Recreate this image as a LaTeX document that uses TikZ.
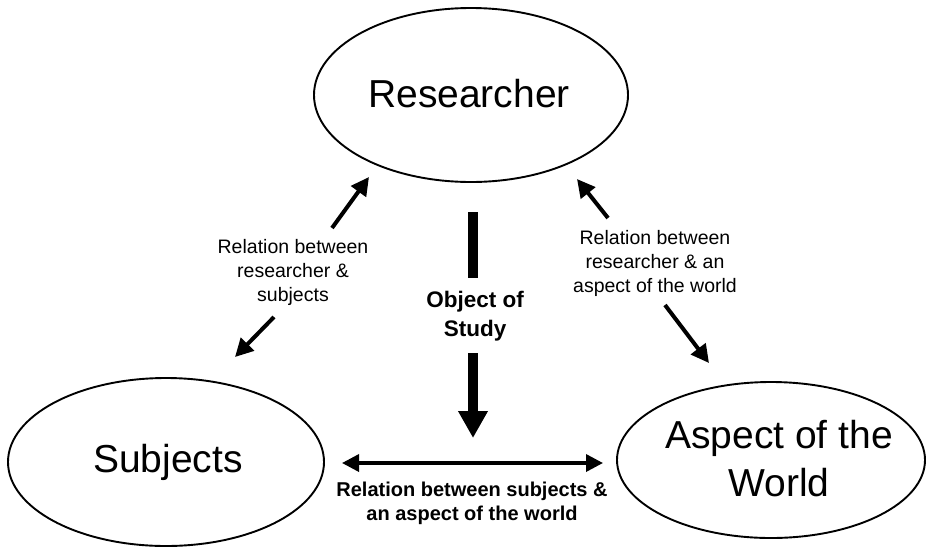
\documentclass[tikz,border=0pt]{standalone}
\usepackage{fontspec}
\setmainfont{Liberation Sans}
\usetikzlibrary{shapes.geometric,arrows.meta}
\begin{document}
\begin{tikzpicture}[x=1pt,y=-1pt,
  bubble/.style={draw=black,line width=1.9pt,ellipse,inner sep=0pt},
  bigtext/.style={font=\fontsize{39}{48}\selectfont,align=center,inner sep=0pt},
  smalltext/.style={font=\fontsize{19.5}{24}\selectfont,align=center,inner sep=0pt},
  boldtext/.style={font=\fontsize{20}{24}\selectfont\bfseries,align=center,inner sep=0pt},
  rel/.style={line width=4pt,-{Triangle[length=18pt,width=18pt]}},
  both/.style={line width=3.5pt,{Triangle[length=17pt,width=17pt]}-{Triangle[length=17pt,width=17pt]}},
  bar/.style={line width=10pt,line cap=butt},
  fat/.style={line width=10pt,-{Triangle[length=27pt,width=28pt]}}]
\useasboundingbox (0,0) rectangle (926,547);
% ellipses
\node[bubble,minimum width=314pt,minimum height=174pt] (res) at (471,95) {};
\node[bubble,minimum width=316pt,minimum height=168pt] (sub) at (166,462) {};
\node[bubble,minimum width=308pt,minimum height=156pt] (asp) at (771,460) {};
\node[bigtext] (rest) at (469,94) {Researcher};
\node[bigtext] (subt) at (168,462) {Subjects};
\node[bigtext] (aspt) at (779,459) {Aspect of the\\World};
% labels
\node[smalltext] (lrel) at (293,272) {Relation between\\researcher \&\\subjects};
\node[smalltext] (rrel) at (655,263) {Relation between\\researcher \& an\\aspect of the world};
\node[boldtext,font=\fontsize{22.5}{29}\selectfont\bfseries] (obj) at (475,316) {Object of\\Study};
\node[boldtext] (brel) at (472,503) {Relation between subjects \&\\an aspect of the world};
% arrow end points
\coordinate (la1) at (332,228); \coordinate (la2) at (369,177);
\coordinate (lb1) at (274,317); \coordinate (lb2) at (235,357);
\coordinate (ra1) at (608,218); \coordinate (ra2) at (577,179);
\coordinate (rb1) at (665,305); \coordinate (rb2) at (709,363);
\coordinate (ob1) at (473,212); \coordinate (ob2) at (473,278);
\coordinate (oc1) at (473,353); \coordinate (oc2) at (473,438);
\coordinate (h1) at (342,463); \coordinate (h2) at (603,463);
\draw[rel] (la1) -- (la2);
\draw[rel] (lb1) -- (lb2);
\draw[rel] (ra1) -- (ra2);
\draw[rel] (rb1) -- (rb2);
\draw[bar] (ob1) -- (ob2);
\draw[fat] (oc1) -- (oc2);
\draw[both] (h1) -- (h2);
\end{tikzpicture}
\end{document}
